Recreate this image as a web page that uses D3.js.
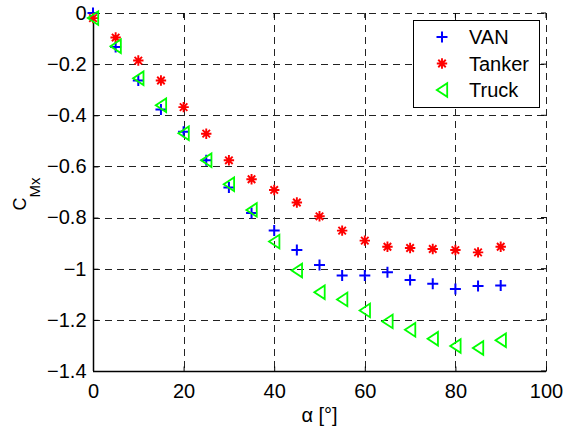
<!DOCTYPE html>
<html>
<head>
<meta charset="utf-8">
<script src="https://cdn.jsdelivr.net/npm/d3@7"></script>
<style>
  html, body { margin: 0; padding: 0; background: #fff; }
  svg { display: block; font-family: Arial, "Liberation Sans", Helvetica, sans-serif; }
</style>
</head>
<body>
<svg id="chart" width="569" height="428"></svg>
<script>
// Angle of attack (deg)
const alpha = [0, 5, 10, 15, 20, 25, 30, 35, 40, 45, 50, 55, 60, 65, 70, 75, 80, 85, 90];

// Roll moment coefficient C_Mx per vehicle
const van    = [0.00, -0.133, -0.264, -0.377, -0.464, -0.576, -0.682, -0.782, -0.851, -0.927, -0.985, -1.027, -1.027, -1.014, -1.044, -1.059, -1.079, -1.068, -1.066];
const tanker = [-0.02, -0.096, -0.186, -0.264, -0.368, -0.472, -0.576, -0.650, -0.692, -0.741, -0.795, -0.851, -0.890, -0.914, -0.919, -0.923, -0.927, -0.936, -0.914];
const truck  = [-0.02, -0.130, -0.255, -0.361, -0.470, -0.576, -0.670, -0.770, -0.894, -1.007, -1.092, -1.120, -1.163, -1.206, -1.239, -1.274, -1.302, -1.310, -1.280];

const xTicks = [0, 20, 40, 60, 80, 100];
const yTicks = [0, -0.2, -0.4, -0.6, -0.8, -1, -1.2, -1.4];

const seriesNames = ["VAN", "Tanker", "Truck"];
const seriesColors = ["#0000ff", "#ff0000", "#00ff00"];

const svg = d3.select("#chart");
const L = 93, R = 546, T = 13, B = 371;
const FONT = 20;

const x = d3.scaleLinear().domain([0, 100]).range([L, R]);
const y = d3.scaleLinear().domain([-1.4, 0]).range([B, T]);

// dashed grid
const grid = svg.append("g").attr("stroke", "#222").attr("stroke-width", 1)
  .attr("stroke-dasharray", "7,5").attr("shape-rendering", "crispEdges");
xTicks.forEach(t => grid.append("line")
  .attr("x1", Math.round(x(t)) + 0.5).attr("x2", Math.round(x(t)) + 0.5)
  .attr("y1", T).attr("y2", B));
yTicks.forEach(t => grid.append("line")
  .attr("x1", L).attr("x2", R)
  .attr("y1", Math.round(y(t)) + 0.5).attr("y2", Math.round(y(t)) + 0.5));

// axes (ticks pointing inward)
const fmt = d => d === 0 ? "0" : d3.format("")(d);
const xAxis = d3.axisBottom(x).tickValues(xTicks).tickSize(-5).tickPadding(12).tickFormat(fmt);
const yAxis = d3.axisLeft(y).tickValues(yTicks).tickSize(-5).tickPadding(7).tickFormat(fmt);

const gx = svg.append("g").attr("transform", `translate(0,${B + 0.5})`).call(xAxis);
const gy = svg.append("g").attr("transform", `translate(${L + 0.5},0)`).call(yAxis);
[gx, gy].forEach(g => {
  g.select(".domain").attr("stroke", "#000").attr("stroke-width", 1.5);
  g.selectAll(".tick line").attr("stroke", "#000");
  g.selectAll("text").attr("font-size", FONT).attr("fill", "#000")
    .attr("font-family", "Arial, 'Liberation Sans', sans-serif");
});
gy.select(".domain").attr("d", `M0,${T}V${B}`);
gx.select(".domain").attr("d", `M${L},0H${R}`);

// inward ticks on the top and right edges
const opp = svg.append("g").attr("stroke", "#000").attr("stroke-width", 1);
xTicks.forEach(t => opp.append("line")
  .attr("x1", x(t)).attr("x2", x(t)).attr("y1", T).attr("y2", T + 5));
yTicks.forEach(t => opp.append("line")
  .attr("x1", R - 5).attr("x2", R).attr("y1", y(t)).attr("y2", y(t)));

// axis labels
svg.append("text")
  .attr("x", (L + R) / 2).attr("y", 422)
  .attr("text-anchor", "middle").attr("font-size", FONT)
  .text("α [°]");

const ylab = svg.append("text")
  .attr("transform", "translate(26,194) rotate(-90)")
  .attr("text-anchor", "middle").attr("font-size", 18);
ylab.append("tspan").text("C");
ylab.append("tspan").attr("font-size", 15).attr("dy", 14).text("Mx");

// marker shapes
function drawMarker(g, kind, cx, cy, color) {
  if (kind === 0) {
    const s = 5.5;
    g.append("path").attr("d", `M${cx - s},${cy}H${cx + s}M${cx},${cy - s}V${cy + s}`)
      .attr("stroke", color).attr("stroke-width", 2).attr("fill", "none");
  } else if (kind === 1) {
    const s = 5.2, d = s * 0.72;
    g.append("path")
      .attr("d", `M${cx - s},${cy}H${cx + s}M${cx},${cy - s}V${cy + s}` +
                 `M${cx - d},${cy - d}L${cx + d},${cy + d}M${cx - d},${cy + d}L${cx + d},${cy - d}`)
      .attr("stroke", color).attr("stroke-width", 1.9).attr("fill", "none");
  } else {
    const w = 5.2, h = 6.8;
    g.append("path").attr("d", `M${cx - w},${cy}L${cx + w},${cy - h}L${cx + w},${cy + h}Z`)
      .attr("stroke", color).attr("stroke-width", 1.8).attr("fill", "none")
      .attr("stroke-linejoin", "miter");
  }
}

// data points
const allSeries = [van, tanker, truck];
const pts = svg.append("g");
allSeries.forEach((vals, k) => {
  vals.forEach((v, i) => drawMarker(pts, k, x(alpha[i]), y(v), seriesColors[k]));
});

// legend
const lg = svg.append("g");
lg.append("rect").attr("x", 413.5).attr("y", 20.5).attr("width", 126).attr("height", 87)
  .attr("fill", "#fff").attr("stroke", "#000").attr("stroke-width", 1);
const rows = [37, 63.5, 90];
seriesNames.forEach((name, k) => {
  drawMarker(lg, k, 442, rows[k], seriesColors[k]);
  lg.append("text").attr("x", 469).attr("y", rows[k] + 7)
    .attr("font-size", FONT).text(name);
});
</script>
</body>
</html>
